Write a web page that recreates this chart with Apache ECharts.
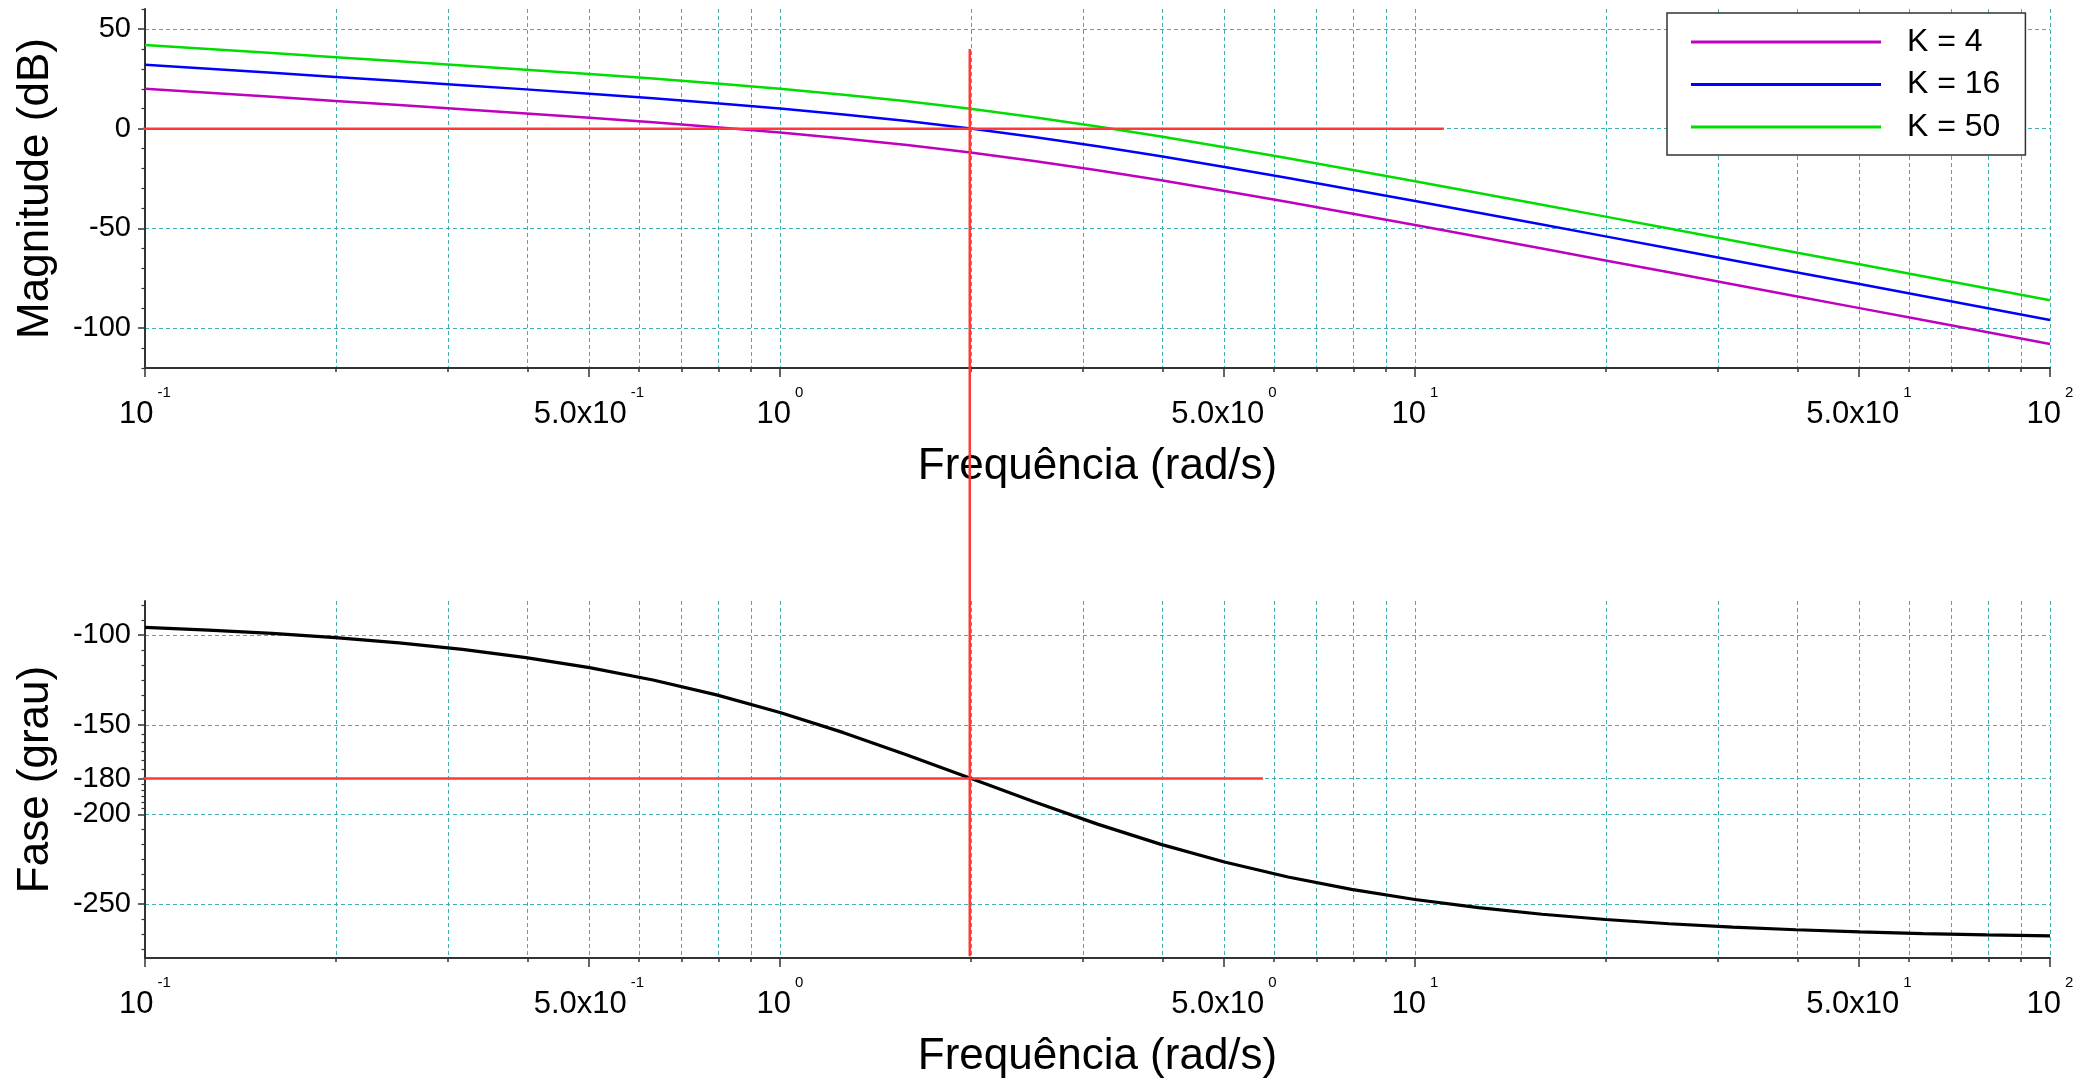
<!DOCTYPE html>
<html>
<head>
<meta charset="utf-8">
<title>Diagrama de Bode</title>
<script src="https://cdn.jsdelivr.net/npm/echarts@6/dist/echarts.min.js"></script>
<style>
  html, body { margin: 0; padding: 0; background: #ffffff; }
  #chart { width: 2079px; height: 1083px; }
</style>
</head>
<body>
<div id="chart"></div>
<script>
// Frequency samples (rad/s), 10 per decade
const freq = [0.1, 0.1259, 0.1585, 0.1995, 0.2512, 0.3162, 0.3981, 0.5012, 0.631, 0.7943,
  1, 1.259, 1.585, 1.995, 2.512, 3.162, 3.981, 5.012, 6.31, 7.943,
  10, 12.59, 15.85, 19.95, 25.12, 31.62, 39.81, 50.12, 63.1, 79.43, 100];

// Magnitude (dB) for each gain
const magK4 = [19.98, 17.97, 15.95, 13.91, 11.86, 9.79, 7.66, 5.47, 3.18, 0.73,
  -1.94, -4.90, -8.23, -12.00, -16.22, -20.88, -25.91, -31.24, -36.79, -42.49,
  -48.30, -54.18, -60.10, -66.05, -72.01, -77.99, -83.98, -89.97, -95.97, -101.96, -107.96];
const magK16 = [32.02, 30.01, 27.99, 25.96, 23.91, 21.83, 19.70, 17.51, 15.22, 12.77,
  10.10, 7.14, 3.81, 0.04, -4.18, -8.84, -13.87, -19.20, -24.75, -30.45,
  -36.26, -42.13, -48.05, -54.00, -59.97, -65.95, -71.94, -77.93, -83.93, -89.92, -95.92];
const magK50 = [41.92, 39.90, 37.88, 35.85, 33.80, 31.72, 29.60, 27.41, 25.11, 22.67,
  20.00, 17.04, 13.71, 9.94, 5.71, 1.06, -3.98, -9.30, -14.85, -20.55,
  -26.36, -32.24, -38.16, -44.11, -50.08, -56.06, -62.04, -68.03, -74.03, -80.03, -86.02];

// Phase (degrees), same for every gain
const phaseDeg = [-95.72, -97.20, -99.06, -101.39, -104.32, -107.97, -112.52, -118.14, -125.02, -133.32,
  -143.13, -154.38, -166.79, -179.86, -192.94, -205.37, -216.65, -226.47, -234.83, -241.74,
  -247.38, -251.95, -255.62, -258.55, -260.90, -262.76, -264.25, -265.43, -266.37, -267.12, -267.71];

const gainNames = ['K = 4', 'K = 16', 'K = 50'];

// Reference lines: 0 dB, -180 degrees and the crossover frequency
const zeroDbFreq = [0.089, 11.1];
const zeroDbLevel = [0, 0];
const phaseRefFreq = [0.0947, 5.76];
const phaseRefLevel = [-180, -180];
const crossFreq = [1.99, 1.99];
const crossLevel = [40, -415];

// Tick values
const freqGridTicks = [0.1, 0.2, 0.3, 0.4, 0.5, 0.6, 0.7, 0.8, 0.9,
  1, 2, 3, 4, 5, 6, 7, 8, 9, 10, 20, 30, 40, 50, 60, 70, 80, 90, 100];
const freqLabelTicks = [0.1, 0.5, 1, 5, 10, 50, 100];
const magLabelTicks = [50, 0, -50, -100];
const magMinorTicks = [60, 40, 30, 20, 10, -10, -20, -30, -40, -60, -70, -80, -90, -110, -120];
const phaseLabelTicks = [-100, -150, -180, -200, -250];
const phaseMinorTicks = [-83.33, -91.67, -108.33, -116.67, -125, -133.33, -141.67,
  -155, -160, -165, -170, -175, -183.33, -186.67, -190, -193.33, -196.67,
  -208.33, -216.67, -225, -233.33, -241.67, -258.33, -266.67, -275];

const FONT = "'Liberation Sans', Arial, Helvetica, sans-serif";
const AXIS_COLOR = '#333333';
const GRID_LINE = { color: '#3fb0b0', width: 1, type: [4, 3] };
const COLORS = ['#bf00bf', '#0000ff', '#00dd00'];
const RED = '#ff3838';

function pairs(xs, ys) {
  return xs.map((x, i) => [x, ys[i]]);
}

// "10^n" or "5.0x10^n" with the exponent raised
function freqLabel(v) {
  const e = Math.floor(Math.log10(v) + 1e-9);
  const m = v / Math.pow(10, e);
  const base = Math.abs(m - 1) < 1e-6 ? '10' : m.toFixed(1) + 'x10';
  return '{b|' + base + '}{s|' + e + '}';
}

// both tokens hang from the top of the line; the top padding of the mantissa lowers it
const freqRich = {
  b: { fontSize: 31, lineHeight: 31, fontFamily: FONT, color: '#000', verticalAlign: 'top', padding: [13.5, 0, 0, 0] },
  s: { fontSize: 15, lineHeight: 15, fontFamily: FONT, color: '#000', verticalAlign: 'top', padding: [0, 0, 0, 4] }
};

function freqAxes(gridIndex) {
  return [
    {
      type: 'log', logBase: 10, min: 0.1, max: 100, gridIndex: gridIndex, position: 'bottom',
      axisLine: { show: true, onZero: false, lineStyle: { color: AXIS_COLOR, width: 2 } },
      axisTick: { show: true, length: 4, customValues: freqGridTicks, lineStyle: { color: AXIS_COLOR, width: 1.5 } },
      axisLabel: { show: false },
      splitLine: { show: true, lineStyle: GRID_LINE },
      minorTick: { show: false }, minorSplitLine: { show: false }
    },
    {
      type: 'log', logBase: 10, min: 0.1, max: 100, gridIndex: gridIndex, position: 'bottom',
      axisLine: { show: false, onZero: false },
      axisTick: { show: true, length: 9, customValues: freqLabelTicks, lineStyle: { color: AXIS_COLOR, width: 1.5 } },
      axisLabel: {
        show: true, customValues: freqLabelTicks, margin: 17,
        formatter: freqLabel, rich: freqRich
      },
      splitLine: { show: false },
      name: 'Frequência (rad/s)', nameLocation: 'middle', nameGap: 77,
      nameTextStyle: { fontSize: 44, fontFamily: FONT, color: '#000' }
    }
  ];
}

function levelAxes(gridIndex, min, max, labels, minor, title) {
  return [
    {
      type: 'value', gridIndex: gridIndex, position: 'left', min: min, max: max,
      axisLine: { show: true, onZero: false, lineStyle: { color: AXIS_COLOR, width: 2 } },
      axisTick: { show: true, length: 7, customValues: labels, lineStyle: { color: AXIS_COLOR, width: 1.5 } },
      axisLabel: { show: true, customValues: labels, margin: 14, fontSize: 29, fontFamily: FONT, color: '#000' },
      splitLine: { show: true, lineStyle: GRID_LINE },
      name: title, nameLocation: 'middle', nameGap: 87, nameRotate: 90,
      nameTextStyle: { fontSize: 44, fontFamily: FONT, color: '#000' }
    },
    {
      type: 'value', gridIndex: gridIndex, position: 'left', min: min, max: max,
      axisLine: { show: false, onZero: false },
      axisTick: { show: true, length: 3.5, customValues: minor, lineStyle: { color: AXIS_COLOR, width: 1.2 } },
      axisLabel: { show: false },
      splitLine: { show: false }
    }
  ];
}

function curve(name, xs, ys, color, width, xi, yi) {
  return {
    name: name, type: 'line', xAxisIndex: xi, yAxisIndex: yi,
    data: pairs(xs, ys), showSymbol: false, symbol: 'none',
    lineStyle: { color: color, width: width }, itemStyle: { color: color },
    emphasis: { disabled: true }, z: 3
  };
}

function refLine(xs, ys, xi, yi) {
  return {
    type: 'line', xAxisIndex: xi, yAxisIndex: yi, clip: false,
    data: pairs(xs, ys), showSymbol: false, symbol: 'none',
    lineStyle: { color: RED, width: 2.5 }, emphasis: { disabled: true }, z: 6
  };
}

const chart = echarts.init(document.getElementById('chart'), null, { renderer: 'canvas' });

chart.setOption({
  backgroundColor: '#ffffff',
  animation: false,
  grid: [
    { left: 145, right: 29, top: 9, height: 359, containLabel: false },
    { left: 145, right: 29, top: 601, height: 357, containLabel: false }
  ],
  legend: {
    orient: 'vertical', left: 1667, top: 13,
    data: gainNames, icon: 'rect',
    itemWidth: 190, itemHeight: 3, itemGap: 10.5,
    padding: [13, 25, 12, 24],
    backgroundColor: '#ffffff', borderColor: '#333333', borderWidth: 1.5,
    textStyle: { fontSize: 32, lineHeight: 32, fontFamily: FONT, color: '#000', padding: [0, 0, 0, 21] },
    selectedMode: false, z: 10
  },
  xAxis: [].concat(freqAxes(0), freqAxes(1)),
  yAxis: [].concat(
    levelAxes(0, -120, 60, magLabelTicks, magMinorTicks, 'Magnitude (dB)'),
    levelAxes(1, -280, -81, phaseLabelTicks, phaseMinorTicks, 'Fase (grau)')
  ),
  series: [
    curve(gainNames[0], freq, magK4, COLORS[0], 2.5, 0, 0),
    curve(gainNames[1], freq, magK16, COLORS[1], 2.5, 0, 0),
    curve(gainNames[2], freq, magK50, COLORS[2], 2.5, 0, 0),
    refLine(zeroDbFreq, zeroDbLevel, 0, 0),
    refLine(crossFreq, crossLevel, 0, 0),
    curve('Fase', freq, phaseDeg, '#000000', 3.2, 2, 2),
    refLine(phaseRefFreq, phaseRefLevel, 2, 2)
  ]
});
</script>
</body>
</html>
